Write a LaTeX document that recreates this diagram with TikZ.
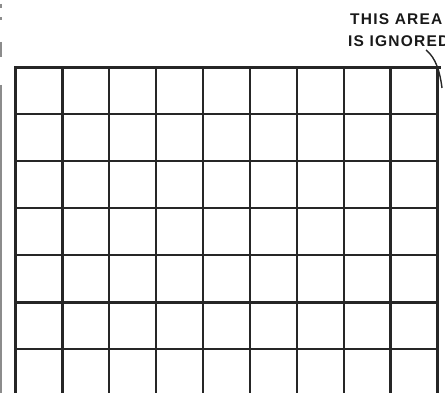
\documentclass[tikz,border=0pt]{standalone}
\usepackage{fontspec}
\setmainfont{Liberation Sans}
\newfontfamily\labelfont[LetterSpace=8]{Liberation Sans}
\begin{document}
\begin{tikzpicture}[x=1pt,y=-1pt,
  gridline/.style={draw=black!85,line width=2.4pt},
  faint/.style={draw=black!45,line width=1.2pt},
  pointer/.style={draw=black!85,line width=1.4pt},
  lbl/.style={font=\labelfont\bfseries\fontsize{15.5}{18}\selectfont,anchor=west,inner sep=0pt,text=black!90}]
\useasboundingbox (0,0) rectangle (445,393);
\clip (0,0) rectangle (445,393);
% grid
\foreach \x in {15.5,62.3,109.2,156.1,203,249.9,296.8,343.7,390.6,437.5}
  \draw[gridline] (\x,67.5) -- (\x,393);
\draw[gridline] (14.3,67.5) -- (441,67.5);
\foreach \y in {114,160.8,208,255.3,302.3,349}
  \draw[gridline] (15.5,\y) -- (438,\y);
% faint left edge line and fragments
\draw[faint] (1,4) -- (1,8);
\draw[faint] (1,17.5) -- (1,20);
\draw[faint] (1,42) -- (1,57);
\draw[faint] (1,85) -- (1,393);
% label
\node[lbl] (l1) at (350,19.5) {THIS AREA};
\node[lbl] (l2) at (348,41) {IS IGNORED};
\coordinate (p1) at (426,50);
\coordinate (p2) at (442,88);
\draw[pointer] (p1) .. controls (436,58) and (440,72) .. (p2);
\end{tikzpicture}
\end{document}
